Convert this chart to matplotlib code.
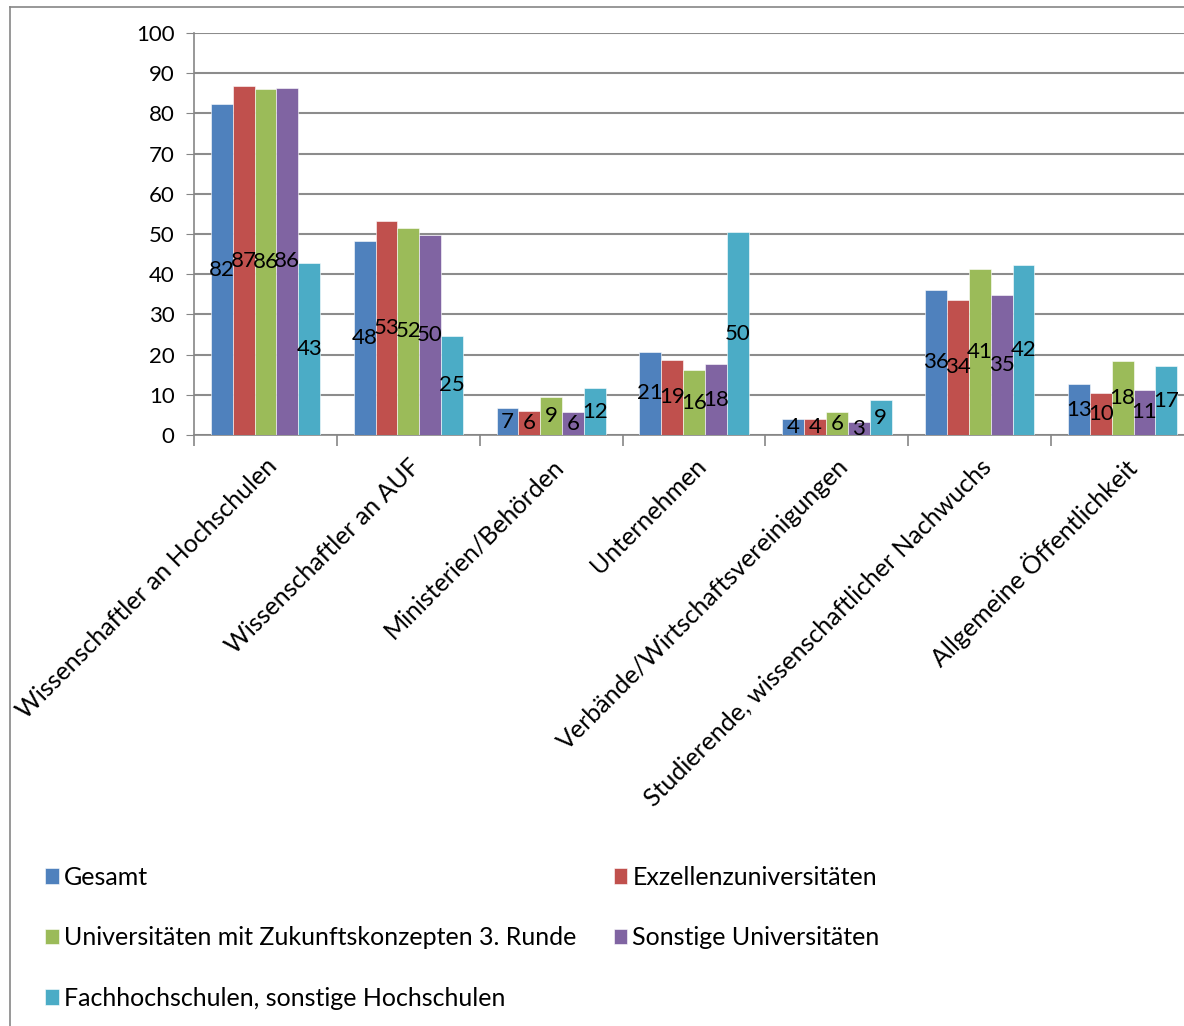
import matplotlib
matplotlib.use("Agg")
import matplotlib.pyplot as plt
from matplotlib.lines import Line2D
import numpy as np

plt.rcParams['font.family'] = ['Lato', 'DejaVu Sans']

# Data
categories = ["Wissenschaftler an Hochschulen", "Wissenschaftler an AUF",
              "Ministerien/Behörden", "Unternehmen",
              "Verbände/Wirtschaftsvereinigungen",
              "Studierende, wissenschaftlicher Nachwuchs",
              "Allgemeine Öffentlichkeit"]
series_names = ["Gesamt", "Exzellenzuniversitäten",
                "Universitäten mit Zukunftskonzepten 3. Runde",
                "Sonstige Universitäten",
                "Fachhochschulen, sonstige Hochschulen"]
gesamt = [82.3, 48.2, 6.7, 20.7, 4.1, 36.1, 12.6]
exzellenz = [86.8, 53.3, 6.0, 18.7, 4.1, 33.6, 10.4]
zukunft = [86.0, 51.6, 9.4, 16.1, 5.6, 41.3, 18.3]
sonstige = [86.4, 49.8, 5.7, 17.6, 3.2, 34.8, 11.3]
fachhoch = [42.7, 24.7, 11.6, 50.4, 8.6, 42.3, 17.1]
series = [gesamt, exzellenz, zukunft, sonstige, fachhoch]
colors = ["#4F81BD", "#C0504D", "#9BBB59", "#8064A2", "#4BACC6"]
yticks = list(range(0, 101, 10))

fig = plt.figure(figsize=(11.84, 10.26), dpi=100)
ax = fig.add_axes([194 / 1184, 1 - 435 / 1026, 1000 / 1184, 402 / 1026])

x = np.arange(len(categories))
w = 0.153
handles = []
for i, (vals, name, c) in enumerate(zip(series, series_names, colors)):
    bars = ax.bar(x + (i - 2) * w, vals, w, color=c, label=name,
                  edgecolor="white", linewidth=0.4, zorder=3)
    ax.bar_label(bars, labels=[f"{v:.0f}" for v in vals], label_type="center",
                 fontsize=16, color="black", zorder=4)
    handles.append(bars)

ax.set_xlim(-0.5, len(categories) - 0.5)
ax.set_ylim(0, 100)
ax.set_yticks(yticks)
ax.tick_params(axis="y", labelsize=16, length=6, color="#868686", pad=8)
ax.yaxis.grid(True, color="#8c8c8c", linewidth=1.5, zorder=0)
ax.set_axisbelow(True)

# category boundary ticks, labels at centers
ax.set_xticks(np.arange(-0.5, len(categories) + 0.5, 1))
ax.set_xticklabels([])
ax.tick_params(axis="x", length=8, color="#868686", width=1.2)
ax.set_xticks(x, minor=True)
ax.set_xticklabels(categories, minor=True, rotation=45, ha="right",
                   va="top", rotation_mode="anchor", fontsize=18)
ax.tick_params(axis="x", which="minor", length=0, pad=14)

for s in ["top", "right"]:
    ax.spines[s].set_visible(False)
ax.spines["left"].set_color("#868686")
ax.spines["bottom"].set_color("#868686")
ax.spines["left"].set_linewidth(1.2)
ax.spines["bottom"].set_linewidth(1.2)

# legend: filled column-wise, so reorder for row-wise look
order = [0, 2, 4, 1, 3]
fig.legend([handles[k] for k in order], [series_names[k] for k in order],
           ncol=2, loc="upper left", bbox_to_anchor=(0.019, 0.178),
           frameon=False, fontsize=18, handlelength=0.55, handleheight=0.55,
           handletextpad=0.2, labelspacing=1.5, columnspacing=1.5)

# outer chart border
fig.add_artist(Line2D([10 / 1184, 10 / 1184], [0, 1 - 7 / 1026],
                      color="#868686", linewidth=1.2))
fig.add_artist(Line2D([10 / 1184, 1], [1 - 7 / 1026, 1 - 7 / 1026],
                      color="#868686", linewidth=1.2))

fig.savefig("out.png", dpi=100)
